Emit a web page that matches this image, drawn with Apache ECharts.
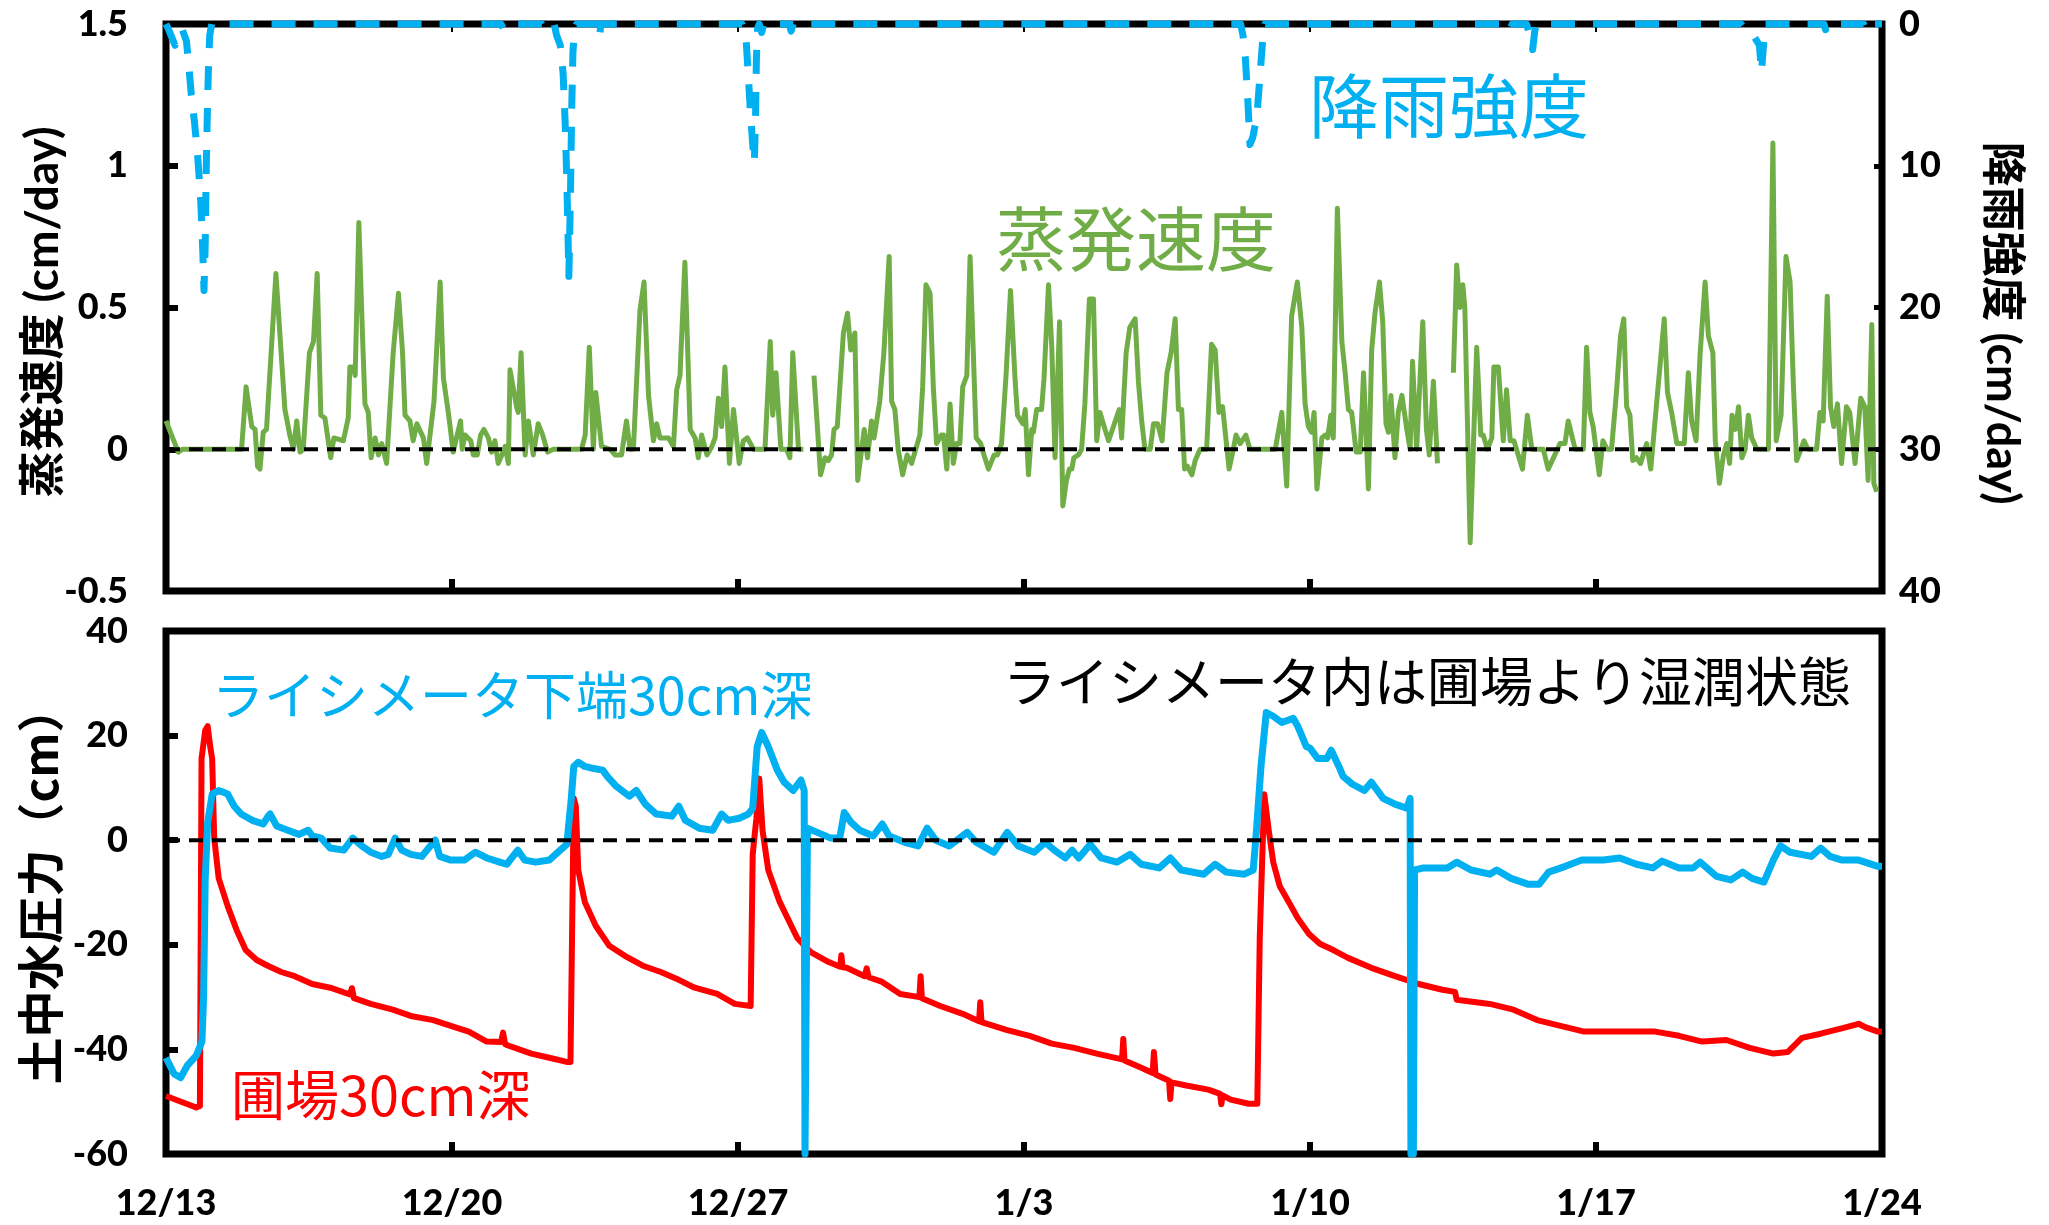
<!DOCTYPE html>
<html><head><meta charset="utf-8">
<script src="https://cdn.jsdelivr.net/npm/echarts@6/dist/echarts.min.js"></script>
<style>html,body{margin:0;padding:0;background:#fff}#c{width:2049px;height:1225px}</style>
</head><body><div id="c"></div>
<script>
// x values are days since 12/13 00:00
const xLabels = ['12/13','12/20','12/27','1/3','1/10','1/17','1/24'];

// 蒸発速度 (cm/day)
const evap = [
[0.0,0.10],[0.3,-0.01],[0.4,0],[1.85,0],[1.96,0.22],[2.10,0.08],[2.18,0.07],[2.24,-0.06],[2.30,-0.07],[2.38,0.06],[2.46,0.07],[2.69,0.62],[2.91,0.14],[3.03,0.05],[3.12,0.0],[3.20,0.10],[3.28,-0.01],[3.36,0.0],[3.51,0.34],[3.61,0.38],[3.70,0.62],[3.79,0.12],[3.89,0.11],[4.03,-0.03],[4.11,0.04],[4.34,0.03],[4.46,0.11],[4.50,0.29],[4.59,0.29],[4.63,0.26],[4.72,0.80],[4.81,0.40],[4.87,0.16],[4.95,0.13],[5.02,-0.03],[5.12,0.04],[5.20,-0.02],[5.28,0.02],[5.40,-0.05],[5.56,0.34],[5.69,0.55],[5.79,0.34],[5.85,0.12],[5.97,0.10],[6.05,0.03],[6.14,0.09],[6.30,0.04],[6.38,-0.05],[6.56,0.17],[6.71,0.59],[6.79,0.25],[6.91,0.13],[7.03,-0.01],[7.11,0.04],[7.21,0.10],[7.25,0.0],[7.32,0.05],[7.46,0.03],[7.52,-0.02],[7.62,-0.02],[7.70,0.05],[7.78,0.07],[7.89,0.04],[7.97,-0.01],[8.05,0.03],[8.13,-0.05],[8.22,-0.02],[8.30,0.01],[8.38,-0.05],[8.42,0.28],[8.58,0.15],[8.62,0.13],[8.69,0.34],[8.79,-0.02],[8.87,0.10],[8.99,-0.02],[9.11,0.09],[9.22,0.05],[9.34,-0.01],[9.48,0.0],[10.17,0.0],[10.26,0.05],[10.36,0.36],[10.46,0.0],[10.52,0.20],[10.66,0.01],[10.87,0.0],[10.99,-0.02],[11.15,-0.02],[11.27,0.10],[11.36,0.0],[11.44,0.0],[11.60,0.49],[11.70,0.59],[11.81,0.19],[11.93,0.03],[12.01,0.09],[12.09,0.04],[12.30,0.04],[12.42,0.01],[12.50,0.21],[12.58,0.26],[12.70,0.66],[12.83,0.07],[12.95,0.04],[13.03,-0.03],[13.11,0.05],[13.24,-0.02],[13.36,0.01],[13.44,0.04],[13.52,0.18],[13.60,0.08],[13.68,0.29],[13.79,-0.05],[13.89,0.14],[14.03,-0.05],[14.13,0.03],[14.23,0.04],[14.38,0.0],[14.66,0.0],[14.79,0.38],[14.85,0.12],[14.93,0.27],[15.05,0.0],[15.19,0.0],[15.27,-0.03],[15.34,0.34],[15.48,0.0],[15.60,0.0],[15.73,'-'],
[15.86,0.26],[16.02,-0.09],[16.13,-0.03],[16.21,-0.04],[16.29,-0.02],[16.35,0.07],[16.43,0.08],[16.58,0.41],[16.68,0.48],[16.76,0.35],[16.86,0.41],[16.93,-0.11],[17.09,0.07],[17.17,-0.03],[17.27,0.10],[17.33,0.04],[17.47,0.17],[17.57,0.34],[17.70,0.68],[17.76,0.17],[17.84,0.14],[17.92,0.0],[18.03,-0.09],[18.14,-0.02],[18.25,-0.05],[18.35,0.0],[18.45,0.05],[18.52,0.22],[18.60,0.58],[18.70,0.55],[18.78,0.22],[18.86,0.02],[18.98,0.05],[19.03,0.05],[19.11,-0.07],[19.19,0.16],[19.27,-0.05],[19.35,0.02],[19.43,0.02],[19.50,0.22],[19.60,0.26],[19.68,0.68],[19.83,0.04],[19.94,0.02],[20.02,-0.02],[20.13,-0.07],[20.27,-0.02],[20.35,-0.02],[20.45,0.02],[20.56,0.26],[20.67,0.56],[20.78,0.25],[20.84,0.12],[20.97,0.09],[21.03,0.14],[21.11,-0.09],[21.19,0.07],[21.23,0.06],[21.31,0.14],[21.43,0.14],[21.49,0.25],[21.60,0.58],[21.68,0.36],[21.76,-0.03],[21.87,0.45],[21.95,-0.20],[22.04,-0.11],[22.11,-0.07],[22.17,-0.07],[22.22,-0.03],[22.33,-0.02],[22.41,0.0],[22.49,0.16],[22.60,0.53],[22.70,0.53],[22.78,0.03],[22.86,0.13],[22.94,0.09],[23.07,0.03],[23.33,0.14],[23.39,0.04],[23.50,0.34],[23.59,0.43],[23.72,0.46],[23.80,0.24],[23.88,0.10],[23.96,0.0],[24.09,0.0],[24.17,0.09],[24.27,0.09],[24.38,0.03],[24.50,0.27],[24.60,0.34],[24.70,0.46],[24.78,0.14],[24.86,0.14],[24.93,-0.07],[25.00,-0.06],[25.11,-0.09],[25.19,-0.04],[25.31,0.0],[25.47,0.0],[25.59,0.37],[25.68,0.35],[25.77,0.13],[25.86,0.15],[26.02,-0.07],[26.11,-0.01],[26.19,0.05],[26.29,0.02],[26.43,0.05],[26.53,0.0],[27.15,0.0],[27.31,0.13],[27.43,-0.13],[27.55,0.47],[27.69,0.59],[27.80,0.43],[27.88,0.16],[27.96,0.08],[28.04,0.06],[28.10,0.13],[28.17,-0.14],[28.29,0.04],[28.37,0.05],[28.43,0.04],[28.51,0.12],[28.57,0.04],[28.67,0.85],[28.78,0.38],[28.86,0.27],[28.94,0.14],[29.02,0.13],[29.13,-0.01],[29.23,-0.01],[29.31,0.27],[29.43,-0.14],[29.51,0.35],[29.59,0.48],[29.70,0.59],[29.78,0.45],[29.86,0.09],[29.92,0.06],[29.98,0.19],[30.08,-0.03],[30.16,0.13],[30.25,0.19],[30.37,0.07],[30.45,0.0],[30.51,0.31],[30.61,0.0],[30.76,0.45],[30.85,0.07],[30.92,-0.02],[31.02,0.24],[31.12,-0.05],[31.30,'-'],
[31.51,0.27],[31.59,0.65],[31.67,0.50],[31.74,0.58],[31.79,0.50],[31.92,-0.33],[32.08,0.36],[32.18,0.05],[32.24,0.05],[32.34,0.0],[32.45,0.04],[32.50,0.29],[32.61,0.29],[32.73,0.03],[32.81,0.21],[32.90,0.03],[32.99,0.03],[33.20,-0.07],[33.32,0.12],[33.43,0.0],[33.71,0.0],[33.83,-0.07],[34.12,0.02],[34.24,0.02],[34.32,0.10],[34.49,0.0],[34.69,0.0],[34.77,0.36],[34.85,0.13],[34.93,0.08],[35.08,-0.09],[35.17,0.03],[35.27,0.0],[35.38,0.0],[35.50,0.20],[35.60,0.40],[35.68,0.46],[35.75,0.15],[35.83,0.12],[35.90,-0.04],[35.99,-0.03],[36.09,-0.05],[36.24,0.02],[36.34,-0.07],[36.47,0.14],[36.57,0.30],[36.67,0.46],[36.75,0.20],[36.85,0.13],[36.98,0.02],[37.16,0.02],[37.26,0.27],[37.34,0.10],[37.45,0.03],[37.55,0.34],[37.67,0.59],[37.75,0.40],[37.86,0.34],[37.92,0.03],[38.02,-0.12],[38.12,-0.02],[38.20,0.02],[38.27,-0.05],[38.33,0.12],[38.41,0.07],[38.49,0.15],[38.57,-0.03],[38.65,0.0],[38.73,0.12],[38.81,0.04],[38.94,0.0],[39.22,0.0],[39.33,1.08],[39.41,0.03],[39.53,0.12],[39.65,0.68],[39.75,0.59],[39.83,0.23],[39.91,-0.04],[39.99,-0.01],[40.09,0.03],[40.19,0.0],[40.40,0.0],[40.48,0.13],[40.56,0.10],[40.66,0.54],[40.74,0.15],[40.82,0.08],[40.91,0.16],[41.01,-0.05],[41.13,0.15],[41.21,0.13],[41.34,-0.05],[41.48,0.18],[41.58,0.15],[41.66,-0.11],[41.75,0.44],[41.80,-0.12],[41.87,-0.15]
];

// 降雨強度 (cm/day), right axis (inverted)
const rain = [
[0,0],[0.05,0.3],[0.15,1.0],[0.22,1.5],[0.3,0.6],[0.4,0.4],[0.5,1.2],[0.56,3.0],[0.62,5.0],[0.7,7.0],[0.78,9.5],[0.85,12.5],[0.9,16.0],[0.93,18.8],[0.96,15.5],[0.98,11],[1.01,6.5],[1.04,3],[1.07,0.8],[1.12,0],
[8.2,0],[8.25,0.3],[8.3,0],[9.2,0],[9.26,0.3],[9.32,0],[9.5,0],[9.56,0.8],[9.65,1.5],[9.72,3.5],[9.77,7],[9.81,11],[9.84,15],[9.86,17.8],[9.9,12],[9.93,6],[9.96,2],[10.0,0.3],[10.05,0],[10.55,0],[10.6,1.0],[10.65,0],
[14.1,0],[14.2,1.2],[14.25,3.5],[14.3,6],[14.36,8.5],[14.4,9.8],[14.43,6.5],[14.45,2.5],[14.48,0.3],[14.52,0],[14.58,0.6],[14.63,0],[15.25,0],[15.3,0.5],[15.35,0],
[26.3,0],[26.36,0.8],[26.42,2.5],[26.48,5.5],[26.53,8.5],[26.6,8.0],[26.7,6.5],[26.78,3.5],[26.84,1.2],[26.9,0],
[32.85,0],[32.9,0.4],[32.95,0],[33.3,0],[33.38,0.8],[33.45,1.8],[33.5,0.5],[33.55,0],
[38.55,0],[38.65,0.4],[38.85,0.8],[39.0,1.5],[39.05,3.4],[39.1,1.5],[39.15,0],
[40.58,0],[40.62,0.4],[40.66,0],[41.55,0],[41.6,0.4],[41.65,0],[42,0]
];

// ライシメータ下端30cm深 (cm)
const lys = [
[0.0,-41.6],[0.2,-44.7],[0.36,-45.4],[0.52,-43.1],[0.74,-41.2],[0.88,-38.5],[0.92,-30],[0.96,-7.3],[1.02,3.4],[1.13,8.8],[1.29,9.5],[1.4,9.2],[1.51,8.8],[1.67,6.5],[1.84,5.0],[2.11,3.8],[2.38,3.1],[2.5,4.6],[2.55,5.0],[2.71,2.7],[2.98,1.9],[3.26,1.1],[3.48,1.9],[3.58,0.8],[3.80,0.4],[4.02,-1.5],[4.35,-1.9],[4.57,0.4],[4.79,-1.1],[5.01,-2.3],[5.28,-3.1],[5.44,-2.7],[5.61,0.4],[5.77,-1.9],[5.99,-2.7],[6.26,-3.1],[6.43,-1.5],[6.59,0],[6.70,-3.1],[6.97,-3.8],[7.30,-3.8],[7.57,-2.3],[7.85,-3.4],[8.17,-4.2],[8.34,-4.6],[8.61,-1.9],[8.78,-3.8],[9.05,-4.2],[9.38,-3.8],[9.65,-1.9],[9.81,-0.8],[9.92,8.0],[9.98,14.1],[10.09,14.9],[10.25,14.1],[10.47,13.7],[10.69,13.4],[10.80,12.2],[11.02,10.3],[11.34,8.4],[11.51,9.5],[11.73,6.9],[12.0,5.0],[12.38,4.6],[12.55,6.5],[12.71,3.8],[13.05,2.3],[13.38,1.9],[13.6,5.0],[13.76,3.8],[14.03,4.2],[14.25,5.0],[14.36,6.1],[14.47,17.9],[14.58,20.6],[14.74,17.9],[14.96,13.4],[15.13,11.1],[15.35,9.5],[15.54,11.5],[15.62,9.5],[15.64,-60],[15.68,-60],[15.70,2.3],[15.94,1.5],[16.27,0.4],[16.49,0.4],[16.6,5.3],[16.77,3.4],[16.98,1.9],[17.31,0.8],[17.53,3.1],[17.7,0.8],[18.08,-0.4],[18.41,-1.1],[18.63,2.3],[18.84,0],[19.17,-1.1],[19.61,1.5],[19.83,-0.4],[20.26,-2.3],[20.59,1.5],[20.86,-1.1],[21.25,-2.3],[21.52,-0.4],[21.74,-1.9],[22.01,-3.4],[22.18,-1.9],[22.34,-3.4],[22.62,-0.8],[22.89,-3.4],[23.27,-4.2],[23.6,-2.7],[23.87,-4.6],[24.31,-5.3],[24.58,-3.4],[24.85,-5.7],[25.4,-6.5],[25.68,-4.6],[25.95,-6.1],[26.39,-6.5],[26.61,-5.7],[26.69,1.9],[26.8,14.1],[26.93,24.4],[27.1,23.7],[27.31,22.5],[27.59,23.3],[27.7,21.8],[27.91,17.9],[28.0,17.6],[28.19,15.6],[28.41,15.6],[28.52,17.2],[28.73,13.7],[28.81,12.2],[29.04,10.7],[29.33,9.5],[29.5,11.1],[29.79,8.0],[30.08,6.9],[30.37,6.1],[30.45,8.0],[30.47,-60],[30.53,-60],[30.56,-5.7],[30.78,-5.3],[31.36,-5.3],[31.59,-4.2],[31.94,-5.7],[32.4,-6.5],[32.57,-5.7],[32.92,-7.3],[33.33,-8.4],[33.61,-8.4],[33.84,-6.1],[34.25,-5.0],[34.65,-3.8],[35.18,-3.8],[35.58,-3.4],[35.99,-4.6],[36.39,-5.3],[36.62,-4.0],[37.03,-5.3],[37.38,-5.3],[37.55,-4.2],[37.95,-6.9],[38.3,-7.6],[38.59,-6.1],[38.82,-7.3],[39.11,-8.0],[39.34,-3.8],[39.52,-1.1],[39.75,-2.3],[40.27,-3.1],[40.5,-1.5],[40.73,-3.1],[41.02,-3.8],[41.43,-3.8],[41.9,-5.0],[42,-5.0]
];

// 圃場30cm深 (cm)
const field = [
[0.0,-48.9],[0.74,-51.1],[0.83,-50.8],[0.87,15.6],[0.96,21.0],[1.02,21.8],[1.08,18],[1.13,15.6],[1.18,0.4],[1.29,-7.3],[1.51,-12.6],[1.73,-17.2],[1.95,-21.0],[2.22,-22.9],[2.49,-24.0],[2.82,-25.2],[3.15,-26.0],[3.58,-27.5],[4.02,-28.2],[4.5,-29.5],[4.55,-28.3],[4.6,-30.2],[5.01,-31.3],[5.55,-32.4],[5.99,-33.6],[6.54,-34.4],[6.97,-35.5],[7.41,-36.6],[7.85,-38.5],[8.2,-38.6],[8.25,-36.8],[8.3,-39.0],[8.39,-39.3],[8.94,-40.8],[9.38,-41.6],[9.81,-42.4],[9.90,-42.4],[9.98,8.0],[10.03,6.5],[10.09,-5.7],[10.25,-11.8],[10.52,-16.4],[10.85,-20.2],[11.23,-22.1],[11.67,-24.0],[12.11,-25.2],[12.55,-26.7],[12.94,-28.2],[13.49,-29.4],[13.92,-31.3],[14.31,-31.7],[14.36,-2.7],[14.45,4.2],[14.52,11.8],[14.6,1.9],[14.74,-5.7],[15.02,-11.8],[15.45,-18.7],[15.78,-21.4],[16.22,-23.3],[16.5,-24.2],[16.53,-22.0],[16.56,-24.3],[16.66,-24.4],[17.1,-26.0],[17.15,-24.5],[17.2,-26.2],[17.53,-27.1],[17.97,-29.4],[18.44,-30.0],[18.47,-26.0],[18.5,-30.2],[18.95,-31.7],[19.5,-33.2],[19.90,-34.6],[19.93,-31.0],[19.96,-34.8],[20.59,-36.3],[21.14,-37.4],[21.68,-38.9],[22.23,-39.7],[22.78,-40.8],[23.40,-41.9],[23.43,-38.0],[23.46,-42.1],[23.87,-43.5],[24.15,-44.5],[24.18,-40.5],[24.22,-44.8],[24.55,-46.0],[24.58,-49.5],[24.61,-46.3],[24.97,-46.9],[25.51,-47.7],[25.8,-48.5],[25.83,-50.5],[25.86,-48.8],[26.06,-49.6],[26.5,-50.4],[26.71,-50.4],[26.77,-18.7],[26.88,8.8],[26.99,1.9],[27.1,-4.2],[27.26,-8.8],[27.48,-11.8],[27.7,-14.9],[27.97,-17.9],[28.24,-19.8],[28.57,-21.0],[28.93,-22.5],[29.5,-24.4],[30.08,-26.0],[30.66,-27.5],[31.24,-28.6],[31.55,-29.0],[31.59,-30.5],[32.4,-31.3],[32.98,-32.4],[33.56,-34.4],[34.13,-35.5],[34.71,-36.6],[35.87,-36.6],[36.45,-36.6],[37.03,-37.4],[37.6,-38.5],[38.19,-38.2],[38.76,-39.7],[39.34,-40.8],[39.69,-40.5],[40.04,-37.8],[40.5,-37.0],[41.06,-35.9],[41.43,-35.1],[41.6,-35.8],[41.9,-36.6],[42,-36.6]
];

const zeroLine = [[0,0],[42,0]];

const chart = echarts.init(document.getElementById('c'));
const tickFont = {fontFamily:'Lato, "Liberation Sans", sans-serif', fontWeight:900, fontSize:36, color:'#000'};
const jp = '"Noto Sans CJK JP", sans-serif';
const xCommon = {type:'value', min:0, max:42, interval:7, splitLine:{show:false}, axisLine:{show:false, onZero:false}};
const yCommon = {type:'value', splitLine:{show:false}, axisLine:{show:false, onZero:false}};
const thickTick = {show:true, inside:true, length:12, lineStyle:{width:6, color:'#000'}};

chart.setOption({
  animation:false,
  backgroundColor:'#fff',
  grid:[
    {left:166, top:24, width:1716, height:567, show:true, borderColor:'#000', borderWidth:7, backgroundColor:'rgba(0,0,0,0)'},
    {left:166, top:631, width:1716, height:523, show:true, borderColor:'#000', borderWidth:7, backgroundColor:'rgba(0,0,0,0)'}
  ],
  xAxis:[
    Object.assign({gridIndex:0, position:'bottom', axisTick:thickTick, axisLabel:{show:false}}, xCommon),
    Object.assign({gridIndex:0, position:'top', axisTick:{show:true, inside:true, length:8, lineStyle:{width:2, color:'#000'}}, axisLabel:{show:false}}, xCommon),
    Object.assign({gridIndex:1, position:'bottom', axisTick:thickTick,
      axisLabel:Object.assign({margin:31, formatter:function(v){return xLabels[Math.round(v/7)];}}, tickFont)}, xCommon)
  ],
  yAxis:[
    Object.assign({gridIndex:0, position:'left', min:-0.5, max:1.5, interval:0.5, axisTick:thickTick, axisLabel:Object.assign({margin:38}, tickFont)}, yCommon),
    Object.assign({gridIndex:0, position:'right', min:0, max:40, interval:10, inverse:true,
      axisTick:{show:true, inside:true, length:8, lineStyle:{width:5, color:'#000'}}, axisLabel:Object.assign({margin:17}, tickFont)}, yCommon),
    Object.assign({gridIndex:1, position:'left', min:-60, max:40, interval:20, axisTick:thickTick, axisLabel:Object.assign({margin:38}, tickFont)}, yCommon)
  ],
  series:[
    {name:'蒸発速度', type:'line', xAxisIndex:0, yAxisIndex:0, data:evap, showSymbol:false, connectNulls:false, z:3,
      lineStyle:{color:'#70AD47', width:5, join:'round'}},
    {name:'zero1', type:'line', xAxisIndex:0, yAxisIndex:0, data:zeroLine, showSymbol:false, z:5, silent:true,
      lineStyle:{color:'#000', width:4, type:[14,9]}},
    {name:'降雨強度', type:'line', xAxisIndex:0, yAxisIndex:1, data:rain, showSymbol:false, clip:false, z:6,
      lineStyle:{color:'#00B0F0', width:7, type:[24,18], join:'round'}},
    {name:'圃場30cm深', type:'line', xAxisIndex:2, yAxisIndex:2, data:field, showSymbol:false, z:3,
      lineStyle:{color:'#FF0000', width:6, join:'round'}},
    {name:'ライシメータ下端30cm深', type:'line', xAxisIndex:2, yAxisIndex:2, data:lys, showSymbol:false, z:4,
      lineStyle:{color:'#00B0F0', width:7, join:'round'}},
    {name:'zero2', type:'line', xAxisIndex:2, yAxisIndex:2, data:zeroLine, showSymbol:false, z:5, silent:true,
      lineStyle:{color:'#000', width:4, type:[14,9]}}
  ],
  graphic:[
    {type:'text', x:1309, y:106, z:10, style:{text:'降雨強度', font:'70px '+jp, fill:'#00B0F0', align:'left', verticalAlign:'middle', textAlign:'left', textVerticalAlign:'middle'}},
    {type:'text', x:996, y:239, z:10, style:{text:'蒸発速度', font:'70px '+jp, fill:'#70AD47', align:'left', verticalAlign:'middle', textAlign:'left', textVerticalAlign:'middle'}},
    {type:'text', x:212, y:695, z:10, style:{text:'ライシメータ下端30cm深', font:'52px '+jp, fill:'#00B0F0', align:'left', verticalAlign:'middle', textAlign:'left', textVerticalAlign:'middle'}},
    {type:'text', x:1003, y:682, z:10, style:{text:'ライシメータ内は圃場より湿潤状態', font:'53px '+jp, fill:'#000', align:'left', verticalAlign:'middle', textAlign:'left', textVerticalAlign:'middle'}},
    {type:'text', x:231, y:1095, z:10, style:{text:'圃場30cm深', font:'54px '+jp, fill:'#FF0000', align:'left', verticalAlign:'middle', textAlign:'left', textVerticalAlign:'middle'}},
    {type:'text', x:43, y:312, rotation:Math.PI/2, z:10, style:{text:'蒸発速度 (cm/day)', font:'bold 46px Lato, '+jp, fill:'#000', align:'center', verticalAlign:'middle', textAlign:'center', textVerticalAlign:'middle'}},
    {type:'text', x:2002, y:323, rotation:-Math.PI/2, z:10, style:{text:'降雨強度 (cm/day)', font:'bold 45px Lato, '+jp, fill:'#000', align:'center', verticalAlign:'middle', textAlign:'center', textVerticalAlign:'middle'}},
    {type:'text', x:40, y:885, rotation:Math.PI/2, z:10, style:{text:'土中水圧力（cm）', font:'bold 47px '+jp, fill:'#000', align:'center', verticalAlign:'middle', textAlign:'center', textVerticalAlign:'middle'}}
  ]
});
</script></body></html>
